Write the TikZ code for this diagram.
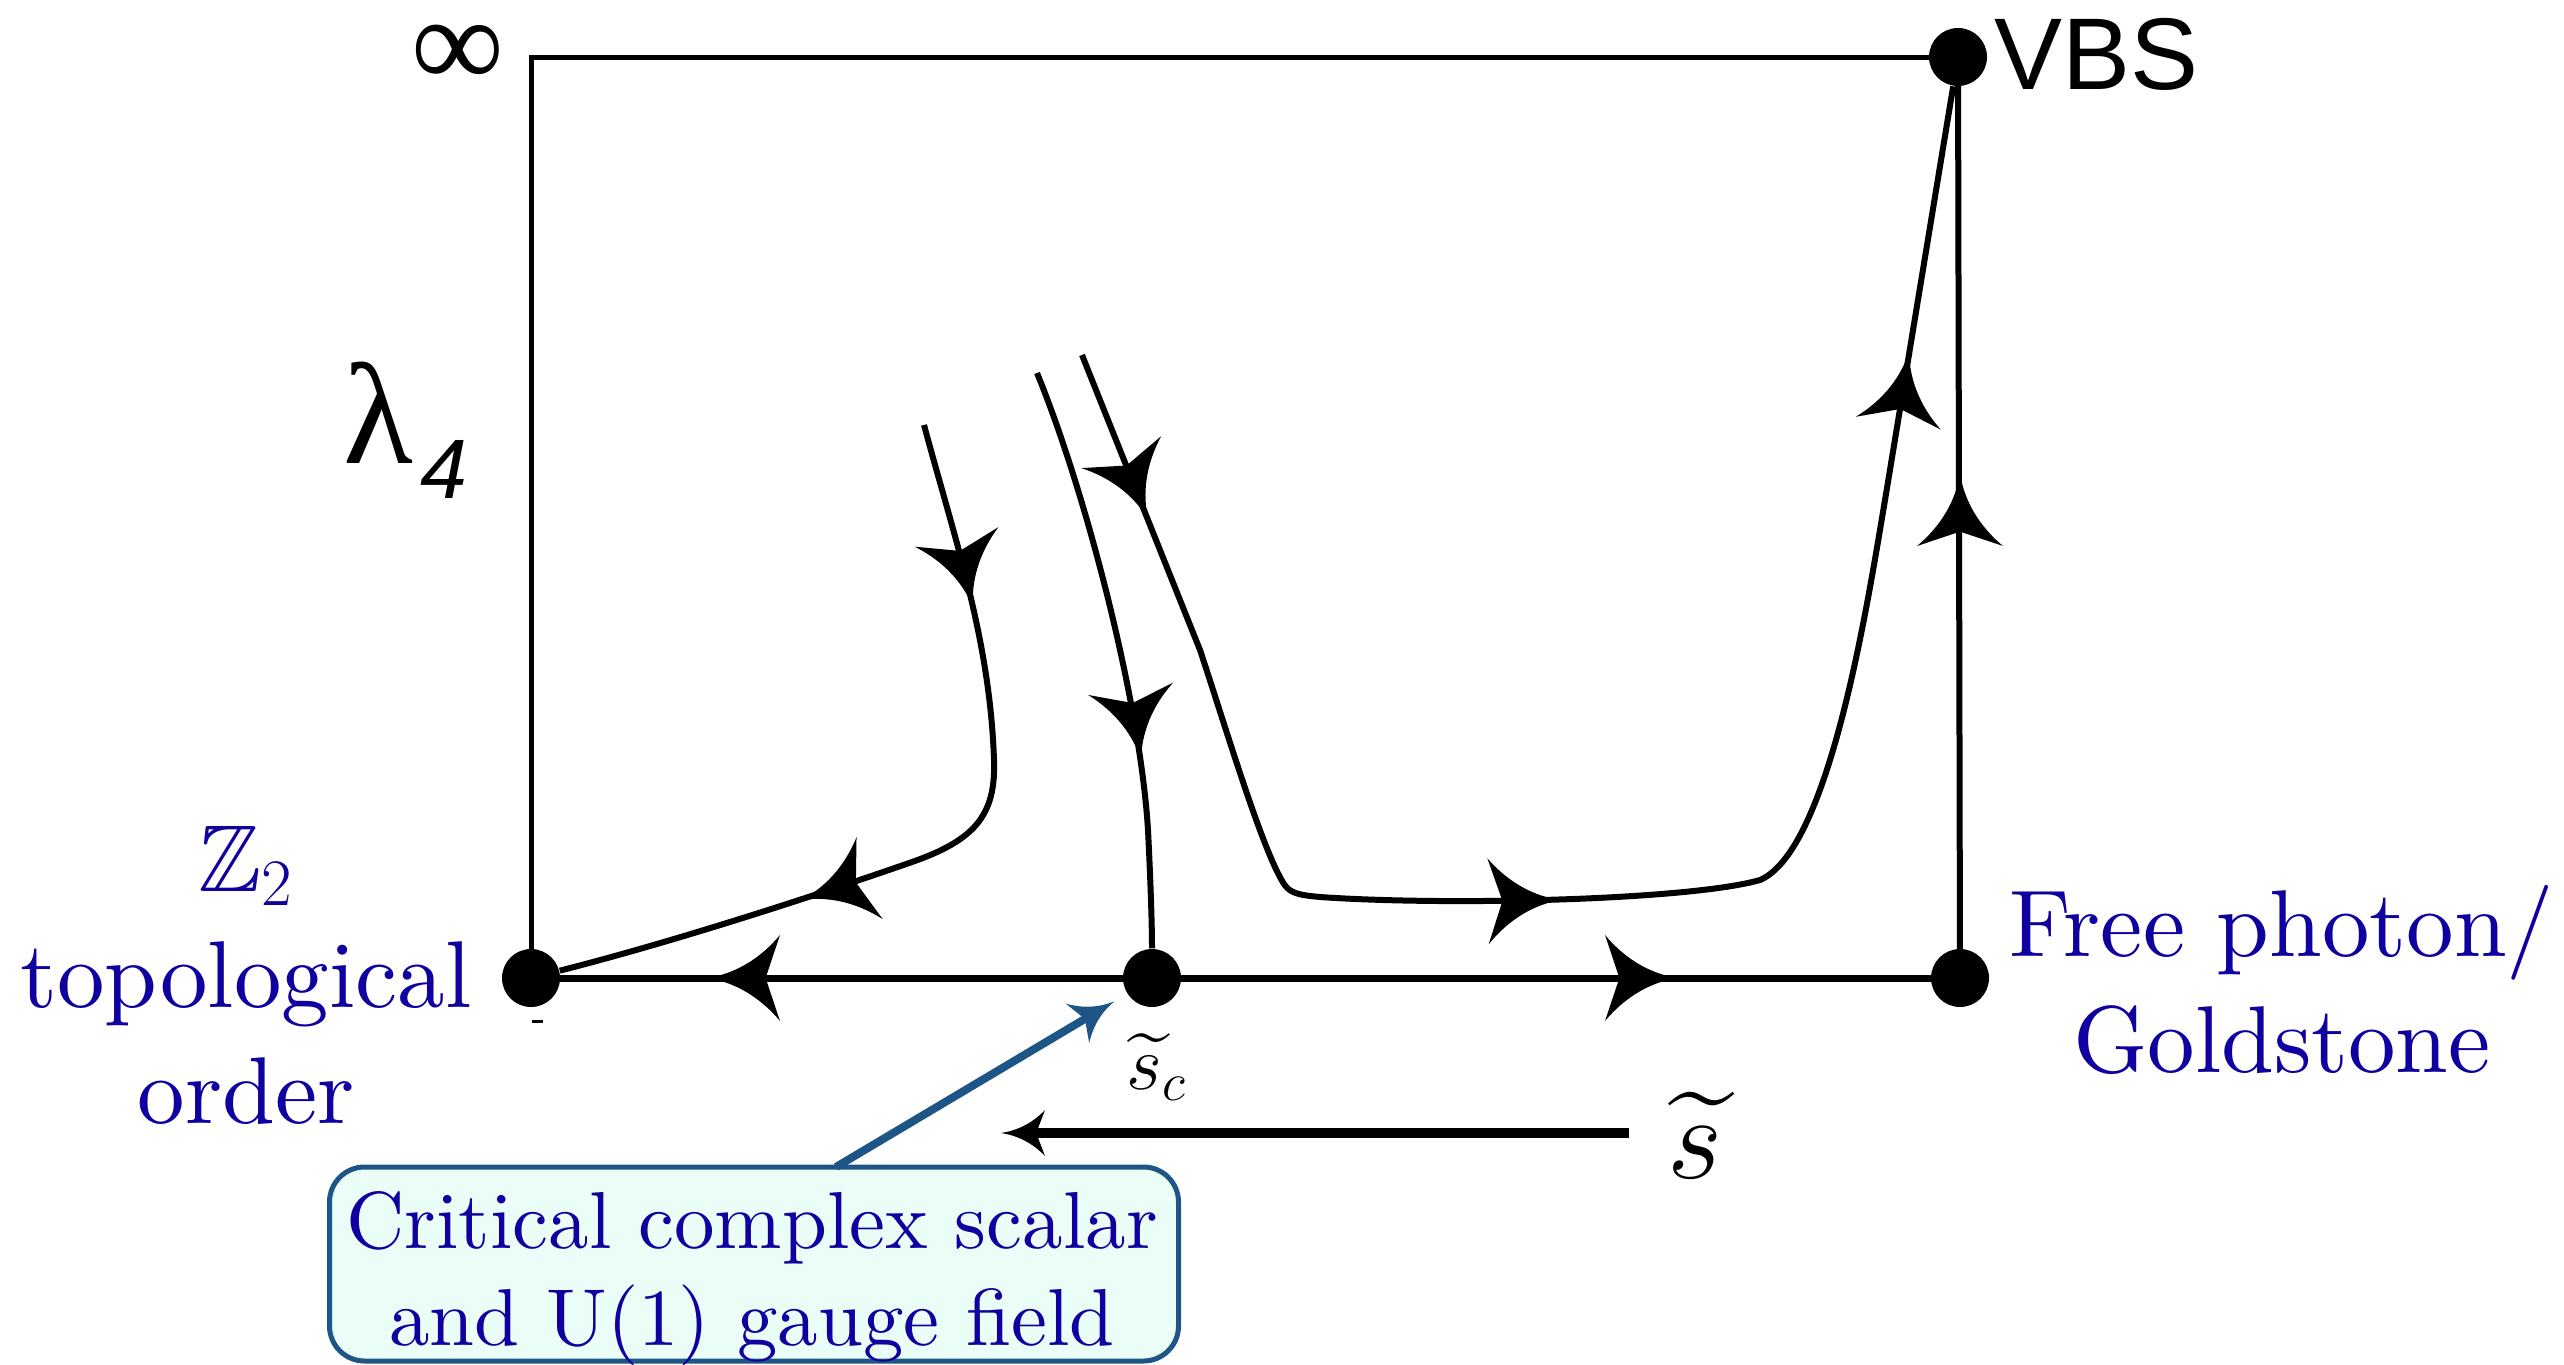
\RequirePackage{fix-cm}
\documentclass[tikz,border=0pt]{standalone}
\usepackage{fontspec}
\usepackage{amssymb}
\DeclareFontFamily{U}{msb}{}
\DeclareFontShape{U}{msb}{m}{n}{<-> msbm10}{}
\usetikzlibrary{decorations.markings,calc}
\setmainfont{lmroman10-regular}[Extension=.otf]
\newfontfamily\lsans{Liberation Sans}
\newfontfamily\lserif{Liberation Serif}
\definecolor{labelblue}{RGB}{16,0,160}
\definecolor{calloutline}{RGB}{30,85,135}
\definecolor{calloutfill}{RGB}{234,254,247}
\begin{document}
\begin{tikzpicture}[x=0.1mm,y=-0.1mm,
  dot/.style={circle,fill=black,inner sep=0pt,minimum size=5.8mm},
  boxline/.style={line width=0.5mm},
  axisline/.style={line width=0.7mm},
  flow/.style={line width=0.6mm},
  ahead/.style n args={3}{decorate,decoration={markings,mark=at position 1 with {%
     \fill[#3] (0,0) .. controls ({-0.35*#1},{0.05*#2}) and ({-0.7*#1},{0.2*#2}) .. ({-#1},{0.5*#2})
       -- ({-0.8*#1},0) -- ({-#1},{-0.5*#2})
       .. controls ({-0.7*#1},{-0.2*#2}) and ({-0.35*#1},{-0.05*#2}) .. (0,0) -- cycle;}}},
  bluelabel/.style={text=labelblue,align=center,inner sep=0pt,font=\fontsize{27}{33}\selectfont},
]
\fill[white] (0,0) rectangle (2564,1364);
\useasboundingbox (0,0) rectangle (2564,1364);

% fixed points
\node[dot] (A) at (531,978) {};
\node[dot] (B) at (1152,978) {};
\node[dot] (C) at (1960,978) {};
\node[dot] (D) at (1958,57) {};

% frame and axis
\draw[boxline] (A.center) |- (D.center);
\draw[flow] (C.center) -- (D.center);
\draw[axisline] (A.center) -- (C.center);
\draw[line width=0.3mm] (532,1021) -- (543,1021);

% flow lines
\coordinate (s1) at (924,425);
\coordinate (s2) at (1037,373);
\coordinate (s3) at (1082,355);
\draw[flow] (s1) .. controls (955,540) and (990,640) .. (994,760)
  .. controls (996,815) and (975,840) .. (912,862)
  .. controls (820,894) and (680,940) .. (A);
\draw[flow] (s2) .. controls (1085,490) and (1140,700) .. (1148,830)
  .. controls (1151,890) and (1152,930) .. (B);
\draw[flow] (s3) -- (1200,650) .. controls (1225,725) and (1262,850) .. (1284,884)
  .. controls (1290,893) and (1298,895) .. (1320,897)
  .. controls (1450,906) and (1690,900) .. (1760,880)
  .. controls (1830,850) and (1868,600) .. (1885,500) -- (D);

% arrowheads on flows
\path[ahead={72}{86}{black}] (962,560) -- (973,607);
\path[ahead={72}{86}{black}] (848,885) -- (801,900);
\path[ahead={72}{86}{black}] (1134,712) -- (1141,760);
\path[ahead={72}{86}{black}] (1128,469) -- (1148,519);
\path[ahead={72}{86}{black}] (1500,901) -- (1560,900);
\path[ahead={72}{86}{black}] (1901,405) -- (1909,352);
\path[ahead={72}{86}{black}] (1960,540) -- (1960,474);
\path[ahead={72}{86}{black}] (770,978) -- (708,978);
\path[ahead={72}{86}{black}] (1610,978) -- (1677,978);

% labels
\node[inner sep=0pt,font=\lserif\fontsize{37}{37}\selectfont] (inf) at (458,56) {∞};
\node[anchor=base west,inner sep=0pt,font=\lserif\fontsize{41}{41}\selectfont] (lam) at (343,463)
  {λ\kern2pt\raisebox{-10pt}{\lsans\itshape\fontsize{24}{24}\selectfont 4}};
\node[anchor=base west,inner sep=0pt,font=\lsans\fontsize{29}{30}\selectfont] (vbs) at (1994,90) {VBS};
\node[bluelabel,anchor=north] (z2) at (246,825) {$\mathbb{Z}_2$\\topological\\order};
\node[bluelabel,anchor=north] (fp) at (2282,885) {Free photon/\\Goldstone};
\node[inner sep=0pt,font=\fontsize{22}{22}\selectfont] (sc) at (1157,1067) {$\widetilde{s}_c$};
\node[inner sep=0pt,font=\fontsize{34}{34}\selectfont] (st) at (1695,1135) {$\widetilde{s}$};

% s-tilde direction arrow
\coordinate (stail) at (1629,1133);
\coordinate (stip) at (1001,1133);
\draw[line width=1mm,shorten >=3mm] (stail) -- (stip);
\path[ahead={44}{46}{black}] (stail) -- (stip);

% callout
\node[draw=calloutline,fill=calloutfill,line width=0.5mm,rounded corners=3.5mm,
  minimum width=84.9mm,minimum height=19.4mm,inner sep=0pt] (cb) at (754,1264) {};
\node[bluelabel,font=\fontsize{23}{27.5}\selectfont,anchor=north] (ct) at (752,1191)
  {Critical complex scalar\\and U(1) gauge field};
\coordinate (ptail) at (836,1167);
\coordinate (ptip) at (1115,1001);
\draw[calloutline,line width=0.8mm,shorten >=3mm] (ptail) -- (ptip);
\path[ahead={43}{46}{calloutline}] (ptail) -- (ptip);
\end{tikzpicture}
\end{document}
